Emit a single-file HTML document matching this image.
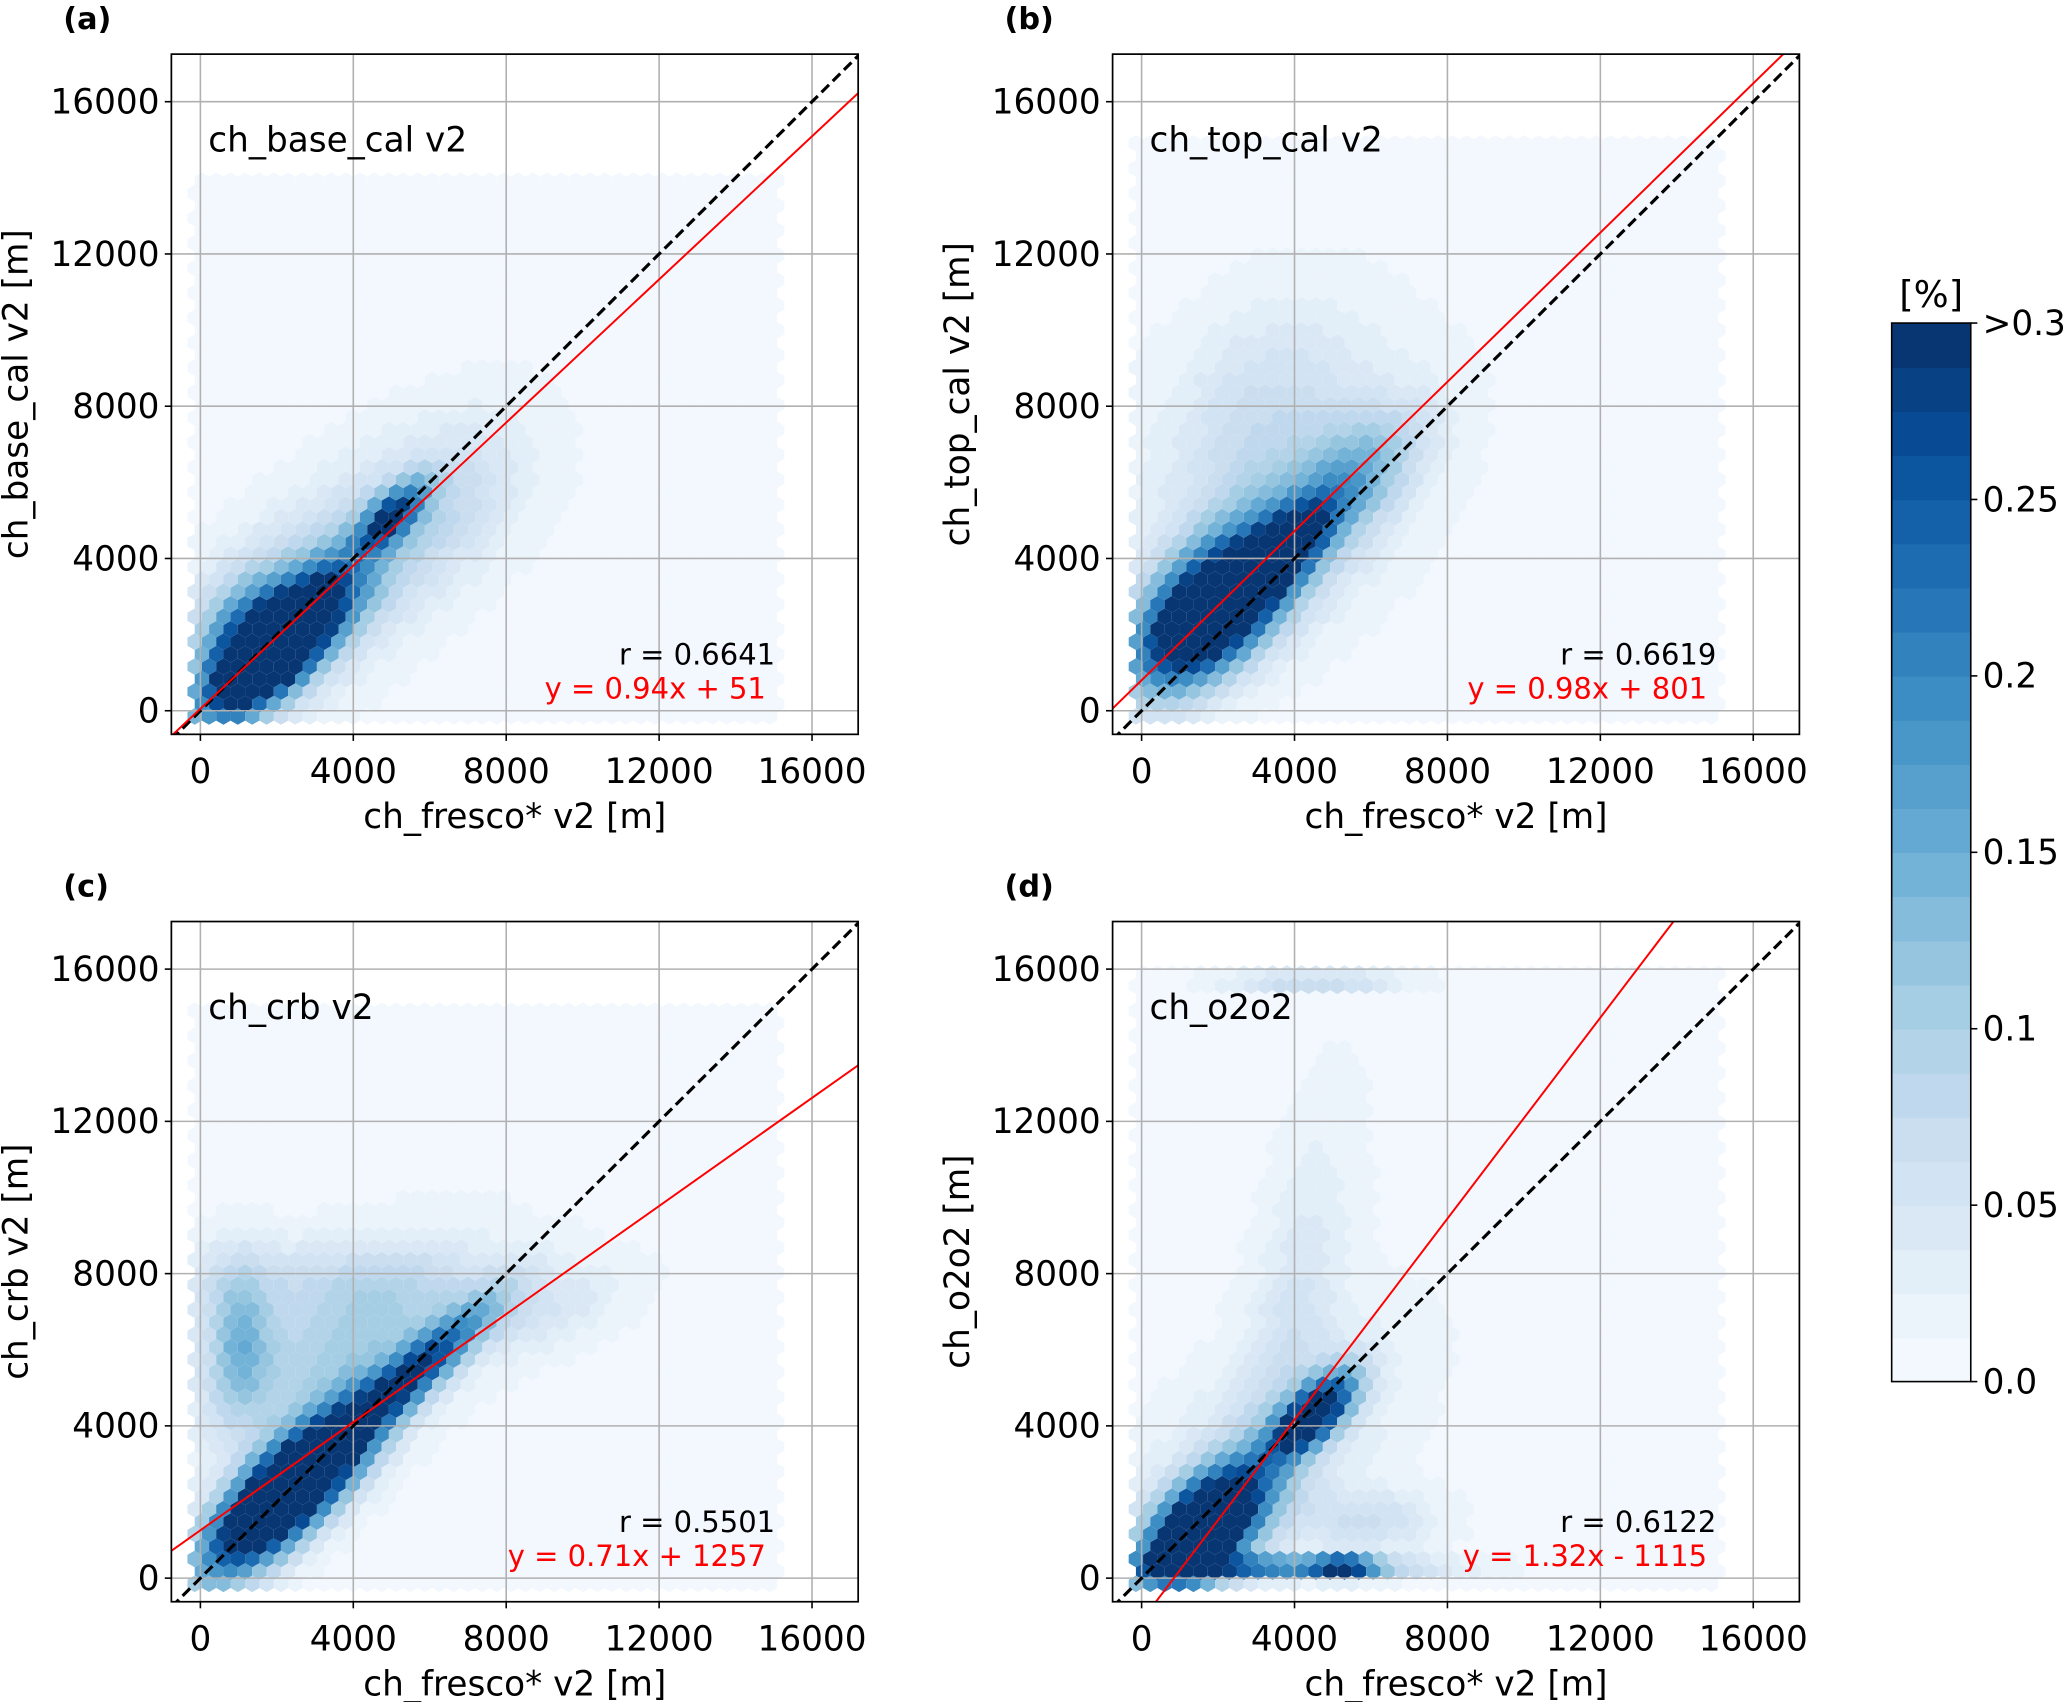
<!DOCTYPE html>
<html><head><meta charset="utf-8"><style>
html,body{margin:0;padding:0;background:#fff;}
svg{display:block;font-family:"DejaVu Sans","Liberation Sans",sans-serif;}
</style></head><body>
<svg id="fig" width="2067" height="1702" viewBox="0 0 1568 1291" xmlns="http://www.w3.org/2000/svg">
<rect width="1568" height="1291" fill="#fff"/>
</svg>
<script>
// ---- data ----
const panelLetters = ['(a)','(b)','(c)','(d)'];
const panelTitles = ['ch_base_cal v2','ch_top_cal v2','ch_crb v2','ch_o2o2'];
const yLabels = ['ch_base_cal v2 [m]','ch_top_cal v2 [m]','ch_crb v2 [m]','ch_o2o2 [m]'];
const xLabel = 'ch_fresco* v2 [m]';
const rValues = ['r = 0.6641','r = 0.6619','r = 0.5501','r = 0.6122'];
const slopes = [0.94, 0.98, 0.71, 1.32];
const intercepts = [51, 801, 1257, -1115];
const eqLabels = ['y = 0.94x + 51','y = 0.98x + 801','y = 0.71x + 1257','y = 1.32x - 1115'];
const tickValues = [0, 4000, 8000, 12000, 16000];
const hexYMax = [14200, 15200, 15200, 15900];
// density components: [cx, cy, sdLong, sdShort, angleDeg, peak%]
const densA = [[2000,1700,1600,620,45,0.5],[3200,3200,2600,1300,45,0.1],[5000,5100,800,350,45,0.22],[1200,2000,1200,900,70,0.13],[6500,5500,1900,1200,45,0.045]];
const densB = [[1800,2600,1600,850,45,0.47],[3600,4100,1100,450,45,0.32],[3500,5000,2800,1600,45,0.09],[5500,6000,1500,750,45,0.1],[3000,8500,2100,1400,45,0.04]];
const densC = [[2300,2300,1900,680,45,0.55],[5500,5300,1900,420,42,0.24],[1000,6200,1400,600,90,0.11],[3800,6000,2500,1300,30,0.09],[3000,7800,3400,800,0,0.04],[9000,7000,1500,700,20,0.035]];
const densD = [[1600,1300,1300,680,45,0.5],[4500,4300,950,420,45,0.35],[3300,300,2500,180,0,0.22],[5300,300,550,180,0,0.24],[4500,15700,1500,120,0,0.13],[4000,7000,3400,800,80,0.04],[3000,3000,2900,1400,45,0.06],[6000,1500,1200,550,0,0.055]];
const panelDens = [densA, densB, densC, densD];
const cbarTicks = [0.0,0.05,0.1,0.15,0.2,0.25];
const cbarTickLabels = ['0.0','0.05','0.1','0.15','0.2','0.25'];
const nLevels = 24, vmax = 0.3;

// ---- geometry ----
const NS='http://www.w3.org/2000/svg';
const svg=document.getElementById('fig');
const origins=[[130,41],[844,41],[130,699],[844,699]];
const W=521,H=516, X0=-759, X1=17207, Y0=-620, Y1=17250;
function mk(tag,attrs,parent){const e=document.createElementNS(NS,tag);for(const k in attrs)e.setAttribute(k,attrs[k]);(parent||svg).appendChild(e);return e;}
const stops=[[0,[247,251,255]],[0.125,[222,235,247]],[0.25,[198,219,239]],[0.375,[158,202,225]],[0.5,[107,174,214]],[0.625,[66,146,198]],[0.75,[33,113,181]],[0.875,[8,81,156]],[1,[8,48,107]]];
function blues(t){t=Math.max(0,Math.min(1,t));for(let i=1;i<stops.length;i++){if(t<=stops[i][0]){const a=stops[i-1],b=stops[i];const f=(t-a[0])/(b[0]-a[0]);const c=a[1].map((v,j)=>Math.round(v+(b[1][j]-v)*f));return `rgb(${c})`;}}return 'rgb(8,48,107)';}
function levelColor(v){let l=Math.floor(v/vmax*nLevels);l=Math.max(0,Math.min(nLevels-1,l));return blues((l+0.5)/nLevels);}

mk('defs',{}).innerHTML=origins.map((o,i)=>`<clipPath id="clip${i}"><rect x="${o[0]}" y="${o[1]}" width="${W}" height="${H}"/></clipPath>`).join('');

origins.forEach((o,p)=>{
  const [ox,oy]=o;
  const sx=v=>ox+(v-X0)/(X1-X0)*W, sy=v=>oy+(Y1-v)/(Y1-Y0)*H;
  const ix=px=>X0+(px-ox)/W*(X1-X0), iy=py=>Y1-(py-oy)/H*(Y1-Y0);
  const g=mk('g',{'clip-path':`url(#clip${p})`});
  
  
  const r=6.3, hs=Math.sqrt(3)*r, vs=1.5*r;
  const comps=panelDens[p];
  let row=0;
  for(let py=sy(-150);py>=sy(hexYMax[p]);py-=vs,row++){
    for(let px=sx(-150)+(row%2?hs/2:0);px<=sx(15150);px+=hs){
      const dx=ix(px),dy=iy(py);
      let v=0.008;
      comps.forEach(c=>{const a=c[4]*Math.PI/180;const u=(dx-c[0])*Math.cos(a)+(dy-c[1])*Math.sin(a);const w=-(dx-c[0])*Math.sin(a)+(dy-c[1])*Math.cos(a);v+=c[5]*Math.exp(-0.5*(u*u/(c[2]*c[2])+w*w/(c[3]*c[3])));});
      let pts=[];for(let k=0;k<6;k++){const an=Math.PI/180*(60*k+30);pts.push((px+r*Math.cos(an)).toFixed(1)+','+(py+r*Math.sin(an)).toFixed(1));}
      mk('polygon',{points:pts.join(' '),fill:levelColor(v)},g);
    }
  }
  tickValues.forEach(t=>{
    const gl=mk('line',{x1:sx(t),x2:sx(t),y1:oy,y2:oy+H,stroke:'#b0b0b0','stroke-width':1.2});
    
    const gh=mk('line',{x1:ox,x2:ox+W,y1:sy(t),y2:sy(t),stroke:'#b0b0b0','stroke-width':1.2});
    
  });
  const lg=mk('g',{'clip-path':`url(#clip${p})`});
  const d1=mk('line',{x1:sx(X0),y1:sy(X0),x2:sx(X1),y2:sy(X1),stroke:'#000','stroke-width':2.4,'stroke-dasharray':'8,4'},lg);
  
  const rl=mk('line',{x1:sx(X0),y1:sy(slopes[p]*X0+intercepts[p]),x2:sx(X1),y2:sy(slopes[p]*X1+intercepts[p]),stroke:'#ff0000','stroke-width':1.5},lg);
  
  const fr=mk('rect',{x:ox,y:oy,width:W,height:H,fill:'none',stroke:'#000','stroke-width':1.3});
  
  tickValues.forEach(t=>{
    mk('line',{x1:sx(t),x2:sx(t),y1:oy+H,y2:oy+H+5,stroke:'#000','stroke-width':1.2});
    mk('line',{x1:ox,x2:ox-5,y1:sy(t),y2:sy(t),stroke:'#000','stroke-width':1.2});
    const xt=mk('text',{x:sx(t),y:oy+H+37,'text-anchor':'middle','font-size':26,fill:'#000'});xt.textContent=t;
    
    const yt=mk('text',{x:ox-9,y:sy(t)+9,'text-anchor':'end','font-size':26,fill:'#000'});yt.textContent=t;
    
  });
  const xl=mk('text',{x:ox+W/2,y:oy+H+71,'text-anchor':'middle','font-size':26});xl.textContent=xLabel;
  
  const yl=mk('text',{x:0,y:0,'text-anchor':'middle','font-size':26,transform:`translate(${ox-109},${oy+H/2}) rotate(-90)`});yl.textContent=yLabels[p];
  
  const pl=mk('text',{x:ox-82,y:oy-19,'font-size':23,'font-weight':'bold'});pl.textContent=panelLetters[p];
  
  const tt=mk('text',{x:ox+28,y:oy+74,'font-size':26});tt.textContent=panelTitles[p];
  
  const rt=mk('text',{x:ox+458,y:oy+463,'text-anchor':'end','font-size':22});rt.textContent=rValues[p];
  
  const et=mk('text',{x:ox+451,y:oy+489,'text-anchor':'end','font-size':22,fill:'#ff0000'});et.textContent=eqLabels[p];
  
});

// colorbar
const cbx=1435,cbw=60,cbTop=245,cbBot=1048;
const cy=v=>cbBot-(v/vmax)*(cbBot-cbTop);
const cbg=mk('g',{});

for(let l=0;l<nLevels;l++){
  const v0=l*vmax/nLevels,v1=(l+1)*vmax/nLevels;
  mk('rect',{x:cbx,y:cy(v1),width:cbw,height:cy(v0)-cy(v1)+0.6,fill:blues((l+0.5)/nLevels)},cbg);
}
mk('rect',{x:cbx,y:cbTop,width:cbw,height:cbBot-cbTop,fill:'none',stroke:'#000','stroke-width':1.2},cbg);
cbarTicks.forEach((t,i)=>{
  mk('line',{x1:cbx+cbw,x2:cbx+cbw+5,y1:cy(t),y2:cy(t),stroke:'#000','stroke-width':1.2});
  const tl=mk('text',{x:cbx+cbw+9,y:cy(t)+9,'font-size':26});tl.textContent=cbarTickLabels[i];
  
});
mk('line',{x1:cbx+cbw,x2:cbx+cbw+5,y1:cbTop,y2:cbTop,stroke:'#000','stroke-width':1.2});
const gt=mk('text',{x:cbx+cbw+9,y:cbTop+9,'font-size':26});gt.textContent='>0.3';

const ct=mk('text',{x:cbx+cbw/2,y:cbTop-12,'text-anchor':'middle','font-size':28});ct.textContent='[%]';

</script>
</body></html>
